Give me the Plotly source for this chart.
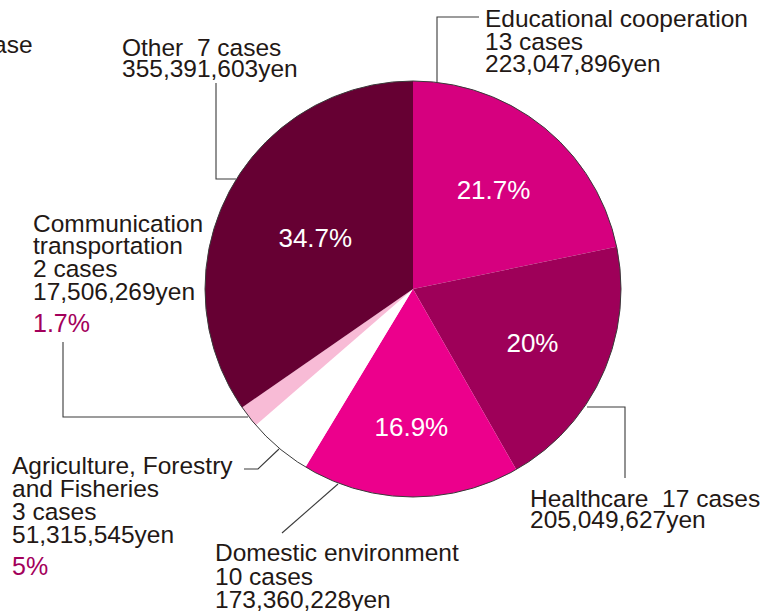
import plotly.graph_objects as go

# ---- data ----
categories = ["Educational cooperation", "Healthcare", "Domestic environment",
              "Agriculture, Forestry and Fisheries", "Communication transportation", "Other"]
cases = [13, 17, 10, 3, 2, 7]
amounts_yen = [223047896, 205049627, 173360228, 51315545, 17506269, 355391603]
pct_labels = ["21.7%", "20%", "16.9%", "5%", "1.7%", "34.7%"]
colors = ["#D6007F", "#9E0059", "#EC008C", "#FFFFFF", "#F8BBD6", "#660033"]
inside_label = [True, True, True, False, False, True]

slice_text = [p if show else "" for p, show in zip(pct_labels, inside_label)]

FONT = "Liberation Sans, Arial, sans-serif"
TXT = "#231815"
MAG = "#A3005B"
LINE = "#3a3a3a"
W, H = 775, 611

fig = go.Figure()

# pie placed in pixel space
cx, cy, r = 413, 289, 208
fig.add_trace(go.Pie(
    labels=categories, values=amounts_yen, sort=False, direction="clockwise",
    rotation=0, marker=dict(colors=colors, line=dict(width=0)),
    text=slice_text, textinfo="text", textposition="inside",
    insidetextorientation="horizontal",
    insidetextfont=dict(family=FONT, size=26, color="white"),
    domain=dict(x=[(cx - r) / W, (cx + r) / W], y=[(H - cy - r) / H, (H - cy + r) / H]),
    showlegend=False, hoverinfo="label+value+percent",
))

fig.update_layout(
    width=W, height=H, margin=dict(l=0, r=0, t=0, b=0),
    paper_bgcolor="white", plot_bgcolor="rgba(0,0,0,0)",
    xaxis=dict(range=[0, W], visible=False, fixedrange=True),
    yaxis=dict(range=[H, 0], visible=False, fixedrange=True),
    showlegend=False,
)

# outline circle
fig.add_shape(type="circle", xref="x", yref="y", x0=cx - r, x1=cx + r, y0=cy - r, y1=cy + r,
              line=dict(color=LINE, width=1), layer="above")


def txt(x, y, s, color=TXT, size=24.5, xshift=-3):
    fig.add_annotation(x=x, y=y, xref="x", yref="y", text=s, showarrow=False,
                       xanchor="left", yanchor="middle", xshift=xshift,
                       font=dict(family=FONT, size=size, color=color))


def leader(pts):
    path = "M " + " L ".join(f"{x},{y}" for x, y in pts)
    fig.add_shape(type="path", xref="x", yref="y", path=path,
                  line=dict(color=LINE, width=1.1))


# cut-off text at top-left
txt(0, 44, "ase", xshift=-9)

# Other
txt(123, 47.5, f"Other  {cases[5]} cases")
txt(123, 68.5, f"{amounts_yen[5]:,}yen")
leader([(216, 83), (216, 179), (236, 179)])

# Educational cooperation
txt(486, 18.5, "Educational cooperation")
txt(486, 41, f"{cases[0]} cases")
txt(486, 63.5, f"{amounts_yen[0]:,}yen")
leader([(479, 17), (437, 17), (437, 82)])

# Communication transportation
txt(34, 223.5, "Communication")
txt(34, 245.5, "transportation")
txt(34, 268.5, f"{cases[4]} cases")
txt(34, 291.5, f"{amounts_yen[4]:,}yen")
txt(34, 323, pct_labels[4], color=MAG, size=25)
leader([(63, 342), (63, 417), (248, 417)])

# Agriculture
txt(13, 465.5, "Agriculture, Forestry")
txt(13, 488.5, "and Fisheries")
txt(13, 511.5, f"{cases[3]} cases")
txt(13, 534.5, f"{amounts_yen[3]:,}yen")
txt(13, 566, pct_labels[3], color=MAG, size=25)
leader([(244, 469), (258, 469), (279, 449)])

# Healthcare
txt(531, 498.5, f"Healthcare  {cases[1]} cases")
txt(531, 519.5, f"{amounts_yen[1]:,}yen")
leader([(587, 407), (625, 407), (625, 478)])

# Domestic environment
txt(216, 552, "Domestic environment")
txt(216, 576.5, f"{cases[2]} cases")
txt(216, 599, f"{amounts_yen[2]:,}yen")
leader([(282, 533), (338, 484)])

fig.write_html("out.html", config={"displayModeBar": False},
               post_script="document.body.style.margin='0';")
